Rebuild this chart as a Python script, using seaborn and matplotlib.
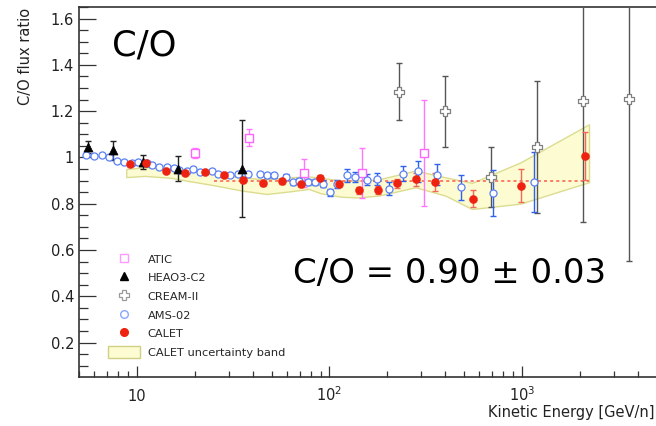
import matplotlib
matplotlib.use("Agg")
import matplotlib.pyplot as plt
from matplotlib.lines import Line2D
from matplotlib.patches import Patch
from matplotlib.ticker import LogLocator, MultipleLocator, NullFormatter
import seaborn as sns

# ---- CALET C/O flux ratio ----
calet_E = [9.19, 11.2, 14.1, 17.8, 22.6, 28.3, 35.7, 45.0, 56.6, 71.4,
           89.3, 112, 142, 179, 225, 281, 354, 554, 992, 2130]
calet_ratio = [0.970, 0.977, 0.943, 0.932, 0.936, 0.926, 0.903, 0.888, 0.897, 0.883,
               0.912, 0.886, 0.857, 0.860, 0.888, 0.906, 0.893, 0.822, 0.878, 1.007]
calet_err = [0.008, 0.008, 0.008, 0.008, 0.008, 0.009, 0.009, 0.010, 0.010, 0.011,
             0.012, 0.014, 0.017, 0.018, 0.020, 0.028, 0.040, 0.038, 0.070, 0.103]

# CALET systematic uncertainty band
band_E = [8.8, 11, 15, 18, 25, 35, 47, 62, 78, 90, 115, 140, 180, 280, 400, 550, 980, 2230]
band_lo = [0.915, 0.920, 0.912, 0.900, 0.880, 0.857, 0.842, 0.853, 0.864, 0.845,
           0.830, 0.827, 0.835, 0.871, 0.835, 0.777, 0.800, 0.893]
band_hi = [0.950, 0.958, 0.950, 0.945, 0.930, 0.914, 0.905, 0.914, 0.918, 0.912,
           0.900, 0.900, 0.905, 0.943, 0.914, 0.890, 0.978, 1.143]

# constant fit
fit_E = [25, 2230]
fit_level = 0.90
fit_err = 0.03

# ---- AMS-02 ----
ams_E = [5.41, 5.98, 6.56, 7.15, 7.84, 8.56, 9.45, 10.16, 11.27, 12.01,
         13.01, 14.37, 15.57, 16.53, 18.25, 19.61, 21.25, 24.44, 26.44, 30.42,
         33.59, 37.86, 43.55, 47.54, 51.68, 59.43, 64.86, 69.67, 77.62, 84.1,
         92.2, 100.6, 109.8, 122.9, 135.7, 156.1, 175.9, 204.5, 240.1, 289.3,
         363.1, 482, 707, 1154]
ams_ratio = [1.012, 1.006, 1.012, 1.001, 0.984, 0.980, 0.977, 0.980, 0.977, 0.968,
             0.958, 0.958, 0.953, 0.947, 0.943, 0.951, 0.936, 0.943, 0.929, 0.926,
             0.929, 0.929, 0.929, 0.922, 0.922, 0.917, 0.893, 0.900, 0.893, 0.893,
             0.886, 0.849, 0.886, 0.922, 0.917, 0.903, 0.907, 0.864, 0.929, 0.940,
             0.925, 0.870, 0.845, 0.893]
ams_err = [0.006, 0.006, 0.006, 0.006, 0.006, 0.006, 0.006, 0.006, 0.006, 0.006,
           0.006, 0.006, 0.006, 0.006, 0.007, 0.007, 0.007, 0.008, 0.008, 0.008,
           0.008, 0.009, 0.009, 0.009, 0.009, 0.010, 0.011, 0.012, 0.013, 0.014,
           0.015, 0.016, 0.018, 0.030, 0.022, 0.024, 0.026, 0.028, 0.032, 0.045,
           0.045, 0.055, 0.100, 0.130]

# ---- ATIC ----
atic_E = [20.0, 38.3, 73.7, 148, 310]
atic_ratio = [1.019, 1.086, 0.932, 0.932, 1.019]
atic_err = [0.022, 0.036, 0.060, 0.107, 0.230]

# ---- HEAO3-C2 ----
heao_E = [5.58, 7.53, 10.7, 16.4, 35.2]
heao_ratio = [1.045, 1.030, 0.980, 0.951, 0.951]
heao_err = [0.025, 0.043, 0.030, 0.054, 0.210]

# ---- CREAM-II ----
cream_E = [230, 398, 690, 1192, 2080, 3606]
cream_ratio = [1.284, 1.200, 0.917, 1.045, 1.243, 1.252]
cream_err = [0.122, 0.153, 0.130, 0.287, 0.520, 0.700]

# axis tick values / labels
y_ticks = [0.2, 0.4, 0.6, 0.8, 1.0, 1.2, 1.4, 1.6]
y_ticklabels = ["0.2", "0.4", "0.6", "0.8", "1", "1.2", "1.4", "1.6"]
x_ticks = [10, 100, 1000]
x_ticklabels = ["10", "$10^{2}$", "$10^{3}$"]

legend_labels = ["ATIC", "HEAO3-C2", "CREAM-II", "AMS-02", "CALET",
                 "CALET uncertainty band"]

sns.set_theme(style="white")
plt.rcParams["font.family"] = ["DejaVu Sans"]

W, H = 656, 426
fig = plt.figure(figsize=(W / 100, H / 100), dpi=100)
ax = fig.add_axes([79 / W, 49 / H, 577.5 / W, 370 / H])
ax.set_xscale("log")

# uncertainty band and fit line
ax.fill_between(band_E, band_lo, band_hi, facecolor="#fcfbd2",
                edgecolor="#dcdc90", linewidth=1.0, zorder=1)
sns.lineplot(x=fit_E, y=[fit_level] * len(fit_E), ax=ax, color="#ff5a4a",
             linewidth=1.1, linestyle=(0, (2, 2)), zorder=2)

# error bars
eb = dict(fmt="none", elinewidth=1.0, capsize=2.0, capthick=1.0, zorder=3)
ax.errorbar(atic_E, atic_ratio, yerr=atic_err, ecolor="#ff77ff", **eb)
ax.errorbar(heao_E, heao_ratio, yerr=heao_err, ecolor="#222222", **eb)
ax.errorbar(cream_E, cream_ratio, yerr=cream_err, ecolor="#555555", **eb)
ax.errorbar(ams_E, ams_ratio, yerr=ams_err, ecolor="#2f62ea", **eb)
ax.errorbar(calet_E, calet_ratio, yerr=calet_err, ecolor="#f06a5a", **eb)

# markers
sns.scatterplot(x=atic_E, y=atic_ratio, ax=ax, marker="s", s=36,
                facecolor="white", edgecolor="#ff66ff", linewidth=1.0, zorder=4)
sns.scatterplot(x=heao_E, y=heao_ratio, ax=ax, marker="^", s=42,
                color="black", edgecolor="black", linewidth=0.5, zorder=5)
sns.scatterplot(x=cream_E, y=cream_ratio, ax=ax, marker="P", s=62,
                facecolor="white", edgecolor="#808080", linewidth=0.9, zorder=4)
sns.scatterplot(x=ams_E, y=ams_ratio, ax=ax, marker="o", s=26,
                facecolor="white", edgecolor="#5a80f5", linewidth=0.9, zorder=4)
sns.scatterplot(x=calet_E, y=calet_ratio, ax=ax, marker="o", s=34,
                color="#ee2211", edgecolor="#ee2211", linewidth=0.3, zorder=6)

# axes limits and ticks
ax.set_xlim(5, 5000)
ax.set_ylim(0.051, 1.65)
ax.set_xlabel("")
ax.set_ylabel("")
ax.set_xticks(x_ticks, x_ticklabels, va="baseline")
ax.xaxis.set_minor_locator(LogLocator(base=10, subs=(2, 3, 4, 5, 6, 7, 8, 9), numticks=20))
ax.xaxis.set_minor_formatter(NullFormatter())
ax.set_yticks(y_ticks, y_ticklabels)
ax.yaxis.set_minor_locator(MultipleLocator(0.05))

ax.tick_params(axis="both", which="both", direction="in", top=False, right=False,
               bottom=True, left=True,
               color="#333333", labelcolor="#222222", labelsize=10.5, width=0.9)
ax.tick_params(axis="x", which="major", length=8, pad=17)
ax.tick_params(axis="x", which="minor", length=4.5)
ax.tick_params(axis="y", which="major", length=12.5, pad=3.6)
ax.tick_params(axis="y", which="minor", length=6.5)

for side in ("left", "bottom", "top"):
    ax.spines[side].set_color("#333333")
    ax.spines[side].set_linewidth(1.2)
ax.spines["right"].set_visible(False)

# axis titles
fig.text(26 / W, 1 - 8 / H, "C/O flux ratio", rotation=90, ha="center", va="top",
         fontsize=10.5, color="#222222")
fig.text(654 / W, 1 - 412 / H, "Kinetic Energy [GeV/n]", ha="right", va="center",
         fontsize=10.5, color="#222222")

# annotations
fig.text(112 / W, 1 - 55.5 / H, "C/O", fontsize=25.5, va="baseline", color="black")
fig.text(293 / W, 1 - 283.5 / H, f"C/O = {fit_level:.2f} ± {fit_err:.2f}",
         fontsize=24.5, va="baseline", color="black")

# legend
handles = [
    Line2D([], [], ls="none", marker="s", ms=5.5, mfc="white", mec="#ff99ff", mew=1.0),
    Line2D([], [], ls="none", marker="^", ms=6, color="black"),
    Line2D([], [], ls="none", marker="P", ms=7.5, mfc="white", mec="#999999", mew=0.9),
    Line2D([], [], ls="none", marker="o", ms=5.5, mfc="white", mec="#88a6ff", mew=1.0),
    Line2D([], [], ls="none", marker="o", ms=5.5, color="#ee2211"),
    Patch(facecolor="#fcfbd2", edgecolor="#d0d084", linewidth=1.0),
]
fig.legend(handles, legend_labels, loc="upper left",
           bbox_to_anchor=(108 / W, 1 - 253 / H), bbox_transform=fig.transFigure,
           frameon=False, fontsize=8.2, handlelength=2.8, handleheight=1.15,
           handletextpad=0.7, labelspacing=0.63, borderpad=0, borderaxespad=0)

fig.savefig("out.png", dpi=100, facecolor="white")
